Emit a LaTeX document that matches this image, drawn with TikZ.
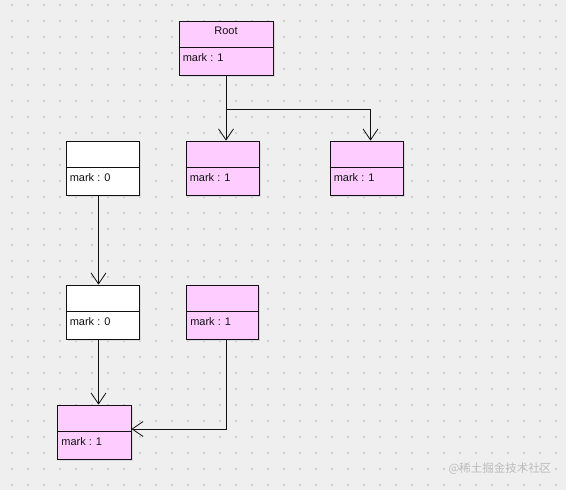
\documentclass[tikz,border=0pt]{standalone}
\usepackage{fontspec}
\setmainfont{Liberation Sans}
\newfontfamily\cjkfont{Noto Sans CJK SC}
\usetikzlibrary{arrows.meta,positioning,calc,shadows}
\definecolor{canvas}  {HTML}{EFEFEF}
\definecolor{griddot} {HTML}{CFCFCF}
\definecolor{umlpink} {HTML}{FFCCFF}
\definecolor{umlink}  {HTML}{111111}
\definecolor{wmgray}  {HTML}{BDBDBD}
\tikzset{
  umlbox/.style={draw=umlink,line width=0.8pt,minimum height=54pt,inner sep=0pt,
    general shadow={fill=black!14,shadow xshift=1.5pt,shadow yshift=-1.5pt}},
  umlline/.style={draw=umlink,line width=0.8pt},
  umltext/.style={font=\fontsize{11}{13}\selectfont,text=umlink,inner sep=0pt},
  umlarr/.style={umlline,-{Straight Barb[length=11pt,width=15pt,line width=0.8pt]}}
}
\begin{document}
\begin{tikzpicture}[x=1pt,y=-1pt]
  % canvas with dotted grid
  \fill[canvas] (0,0) rectangle (566,490);
  \useasboundingbox (0,0) rectangle (566,490);
  \foreach \gx in {0,...,34} {
    \foreach \gy in {0,...,30} {
      \fill[griddot] (12+16*\gx-0.8,5+16*\gy-0.8) rectangle ++(1.6,1.6);
    }
  }
  % boxes
  \foreach \nm/\cx/\cy/\bw/\clr/\ttl/\val in {
      root/226/48/94/umlpink/Root/1,
      a/102.5/168/73/white/{}/0,
      b/222.5/168/73/umlpink/{}/1,
      c/366.5/168/73/umlpink/{}/1,
      d/102.5/312/73/white/{}/0,
      e/222.5/312/72/umlpink/{}/1,
      f/94.3/432/73.5/umlpink/{}/1} {
    \node[umlbox,fill=\clr,minimum width=\bw] (\nm) at (\cx,\cy) {};
    \draw[umlline] ([yshift=-26.5pt]\nm.north west) -- ([yshift=-26.5pt]\nm.north east);
    \node[umltext] (\nm-t) at ([yshift=-10pt]\nm.north) {\ttl};
    \node[umltext,anchor=west] (\nm-v) at ([xshift=4pt,yshift=-37pt]\nm.north west) {mark : \val};
  }
  % connectors
  \coordinate (split) at ([yshift=-34pt]root.south);
  \draw[umlarr] (root.south) -- (root.south |- b.north);
  \draw[umlarr] (split) -| ([xshift=4pt]c.north);
  \draw[umlarr] ([xshift=-4pt]a.south) -- ([xshift=-4pt]d.north);
  \draw[umlarr] ([xshift=-4pt]d.south) -- ([xshift=-4pt]d.south |- f.north);
  \draw[umlarr] ([xshift=4pt]e.south) |- ([yshift=3pt]f.east);
  % watermark
  \node[font=\cjkfont\fontsize{11.5}{13}\selectfont,text=wmgray] (wm) at (500,469) {@稀土掘金技术社区};
\end{tikzpicture}
\end{document}
